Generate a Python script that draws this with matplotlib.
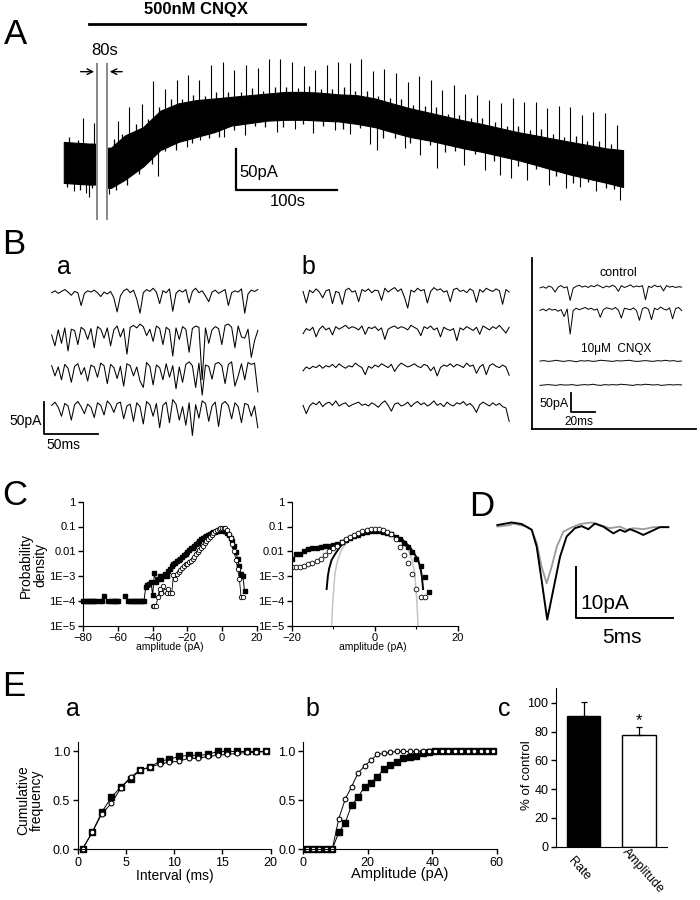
import numpy as np
import matplotlib
matplotlib.use('Agg')
import matplotlib.pyplot as plt
from matplotlib.ticker import NullLocator

plt.rcParams['font.family'] = ['Liberation Sans', 'DejaVu Sans']

# ---------------- data ----------------
# A: slow current during 500 nM CNQX (time s, current pA)
a_t   = [0, 25, 31, 44, 47, 61, 79, 96, 114, 132, 150, 167, 185, 203, 221, 239, 256, 274,
         292, 310, 327, 345, 363, 381, 399, 416, 434, 452, 470, 487, 505, 523, 541, 557]
a_top = [22, 20, 20, 15, 15, 30, 40, 60, 69, 73, 75, 77, 79, 81, 83, 83, 82, 80,
         79, 75, 69, 63, 58, 53, 48, 44, 39, 34, 30, 26, 22, 18, 14, 12]
a_bot = [-28, -30, -30, -34, -34, -24, -8, 12, 22, 28, 34, 42, 45, 48, 49, 49, 48, 47,
         44, 40, 34, 28, 24, 19, 14, 10, 5, 0, -6, -12, -18, -23, -28, -33]
spike_t = [19.5, 29.7, 54, 65, 78, 89, 101, 113, 124, 135, 147, 159, 170, 181, 193, 204,
           215, 227, 239, 250, 262, 273, 285, 296, 308, 319, 331, 343, 354, 366, 377, 389,
           400, 412, 423, 435, 447, 458, 470, 481, 493, 504, 516, 527, 539, 551]
spike_tip = [51, 45, 47, 64, 68, 96, 86, 98, 104, 98, 116, 120, 110, 116, 112, 123,
             123, 120, 114, 110, 116, 120, 118, 123, 108, 111, 106, 95, 102, 98, 85, 91,
             80, 79, 73, 69, 75, 71, 71, 63, 66, 65, 55, 59, 57, 43]
dip_t = [10, 22, 25, 45, 94, 123, 136, 160, 180, 212, 230, 248, 270, 285, 305, 312, 340,
         355, 372, 399, 420, 434, 445, 461, 483, 500, 514, 530, 554]
dip_i = [-38, -40, -45, -42, -20, 16, 24, 28, 30, 34, 38, 33, 36, 32, 20, 12, 14,
         6, -10, -6, -12, -18, -22, -24, -30, -34, -33, -38, -49]
# fine fringe of the noisy band (height above top / depth below bottom, pA)
top_hair_t = [5, 14, 50, 58, 72, 84, 95, 107, 118, 129, 141, 152, 164, 176, 187, 198, 210,
              221, 233, 244, 256, 267, 279, 290, 302, 313, 325, 336, 348, 360, 371, 383,
              394, 406, 417, 429, 441, 452, 464, 475, 487, 498, 510, 521, 533, 545]
top_hair_h = [6, 4, 7, 5, 8, 4, 6, 9, 5, 7, 4, 8, 6, 5, 9, 4, 7, 6, 5, 8, 4, 6, 9, 5, 7, 4,
              6, 8, 5, 7, 9, 4, 6, 5, 8, 6, 4, 7, 5, 9, 6, 4, 8, 5, 7, 6]
bot_hair_t = [3, 16, 28, 52, 63, 75, 88, 101, 112, 128, 145, 155, 170, 190, 200, 218, 238,
              258, 278, 295, 318, 330, 345, 365, 380, 390, 410, 428, 452, 470, 490, 507,
              522, 540, 548]
bot_hair_h = [5, 7, 4, 6, 8, 5, 7, 4, 9, 6, 5, 8, 6, 4, 7, 9, 5, 6, 8, 4, 10, 6, 7, 5, 9, 6,
              4, 8, 7, 5, 6, 9, 4, 7, 5]

# B: sEPSC sweeps (pA), a = control, b = 500 nM CNQX
ba1 = [2, 5, 1, 4, 7, 3, -2, 4, 2, -18, 1, 5, 3, 6, 2, -4, 3, 0, 4, -6, -28, -3, 5, 8, 2, 6,
       -8, -30, 2, 7, 4, 9, 3, -15, 5, 2, 8, -27, 1, 6, 3, 7, -14, 4, 9, 2, 5, -3, -12, 3, 6,
       1, 4, 7, -18, 2, 5, 3, 8, -30, 0, 6, 4, 7]
ba2 = [-5, -22, 3, -18, 6, -30, 4, 2, -20, 7, 3, -12, 5, -25, 8, 4, -10, 6, -22, 3, 9, -8,
       5, -35, 7, 10, 6, 12, 8, -6, 4, -15, 9, 5, -20, 7, 3, -38, 6, -12, 8, 4, -32, 5, 9, 7,
       -75, 6, -18, 3, 8, 5, -20, 10, 12, 7, -25, 9, -8, -10, 4, -40, -14, 2]
ba3 = [6, -10, 4, -16, 8, 2, -20, 5, 9, -8, 3, -18, 7, 4, -12, 10, 6, -22, 8, 3, -14, 5, -26,
       9, 6, -10, 4, -18, -28, 11, 5, -24, 7, 3, -16, 9, -12, 6, -30, 4, -20, 8, 12, 6, -28,
       10, -40, 7, 5, -15, 9, 11, 6, -22, 8, 12, -26, -10, 9, -16, 11, 8, 10, -35]
ba4 = [5, 10, 2, -12, 8, 4, -18, 6, 11, 3, -8, 7, 2, -14, 9, 5, -10, 12, 6, -6, 8, 10, -16,
       4, 7, -20, 9, 3, -24, 11, 6, -12, 8, -30, 5, 10, -22, 14, 7, -18, 3, -26, 9, -42, 6,
       -15, 12, 8, -20, 4, 10, -28, 7, 11, 5, -16, 9, 3, -22, 8, 6, -12, 4, -30]
bb1 = [4, -14, 6, 2, 8, 3, -6, 5, 7, -15, 4, 2, -16, 6, 9, 3, 5, -12, 7, 4, 8, 2, 6, 5, -10,
       9, 3, 7, 10, 4, 8, -5, -22, 6, 3, 9, 5, 7, -14, 4, 10, 6, 8, 3, 5, -12, 7, 9, 4, 6, 2,
       8, 5, -13, 7, 3, 9, 6, 4, 8, 5, -16, 7, 3]
bb2 = [-3, 5, 2, 7, -8, 4, 9, 3, 6, -5, 8, 4, 7, 10, 5, 8, 6, 3, 9, -4, 7, 5, 8, 2, 6, -12,
       4, 7, 9, 5, 8, 6, 3, 10, 7, 4, -6, 8, 5, 9, 3, 6, -8, 7, 4, 2, 5, -14, 6, 3, 8, 5, 2,
       7, -4, 9, 6, 3, 8, 5, 10, 4, -2, 7]
bb3 = [-2, 4, 1, 5, 3, 7, 2, 6, 4, 8, 3, 9, 5, 2, 6, 4, 10, 6, 3, -8, 5, 2, 7, 4, 9, 6, 3, 8,
       -3, 5, 10, 7, 4, 6, 9, 5, 3, 8, 6, -2, 4, -10, 3, 7, 5, 9, 4, 8, 6, 3, 10, 5, 7, -6, 4,
       8, -8, 6, 9, 5, 3, 7, 4, -9]
bb4 = [5, -8, 4, 9, 6, 11, 3, 8, 10, 5, 12, 4, 7, 9, 3, 6, 8, 10, 5, 7, 4, 9, 6, 2, 8, 12, 5,
       -4, 7, 9, 4, 6, 10, 3, 8, 11, 6, 9, 4, 7, 12, 5, 8, 3, 10, 6, 4, 9, 7, 11, 5, 8, 3, -6,
       6, 10, 7, 4, 9, 5, 8, 3, 1, -20]
# B inset: control vs 10 uM CNQX
bc1 = [3, 6, 2, 8, 4, -8, 5, 9, 3, 6, -30, 2, 7, 10, 5, 8, 4, 9, 6, 11, 7, 3, 8, 5, 10, 6,
       -6, 9, 4, 7, 11, 5, 8, 6, 9, -28, 7, 4, 10, 6, 8, -5, 9, 5, 7, 4, 6, 5]
bc2 = [4, 8, 3, 9, 5, 7, 2, 6, -12, 8, -58, 4, 10, 6, 9, 12, 7, 10, 5, 8, -14, 6, 11, 9, 7,
       12, 5, -16, 10, 8, 6, 11, 4, -22, 9, 12, 7, -20, 10, 6, 13, 8, 5, 11, -18, 9, 12, 4]
bq1 = [0, 1, -1, 0, 2, 0, -1, 1, 0, -2, 1, 0, 1, -1, 0, 2, 1, 0, -1, 1, 0, 1, 2, 0, -1, 0,
       1, 0, -1, 1, 0, 2, 0, 1, -1, 0]
bq2 = [-1, 0, 1, 0, -1, 1, 0, 0, 1, -1, 0, 1, 0, 2, 0, -1, 1, 0, 1, 0, 2, 1, 0, -1, 1, 0, 2,
       1, 0, 1, -1, 0, 1, 0, 1, 0]

# C: amplitude histograms (probability density)
cl_tail_x = [-80, -79, -78, -77, -76, -75, -74, -73, -71, -69, -68, -66, -64, -63, -62, -61,
             -60, -56, -54, -53, -52, -51, -50, -49, -48, -47, -46]
cl_tail_y = [1e-4, 1e-4, 1e-4, 1e-4, 1e-4, 1e-4, 1e-4, 1e-4, 1e-4, 1e-4, 1.6e-4, 1e-4, 1e-4,
             1e-4, 1e-4, 1e-4, 1e-4, 1.6e-4, 1e-4, 1e-4, 1e-4, 1e-4, 1e-4, 1e-4, 1e-4, 1e-4,
             1e-4]
cl_ctrl_x = list(range(-45, 14))
cl_ctrl_y = [1e-4, 3.5e-4, 4.5e-4, 5e-4, 6e-4, 1.7e-4, 1.3e-3, 6e-4, 8e-4, 1e-3, 8e-4, 1e-3,
             1.2e-3, 1e-3, 1.6e-3, 2e-3, 2.5e-3, 3e-3, 3.5e-3, 4e-3, 4.5e-3, 5e-3, 6e-3, 7e-3,
             8e-3, 9e-3, 1.1e-2, 1.3e-2, 1.4e-2, 1.7e-2, 1.9e-2, 2.2e-2, 2.6e-2, 3e-2, 3.4e-2,
             3.8e-2, 4.2e-2, 4.6e-2, 5e-2, 5.4e-2, 5.8e-2, 6.2e-2, 6.5e-2, 6.8e-2, 7e-2, 7e-2,
             6.8e-2, 6.5e-2, 5.5e-2, 4.5e-2, 3.5e-2, 2.5e-2, 1.6e-2, 9e-3, 5e-3, 2.5e-3,
             1.2e-3, 1e-3, 2.5e-4]
cl_cnqx_x = list(range(-40, 13))
cl_cnqx_y = [6e-5, 6e-5, 6e-5, 1.5e-4, 3e-4, 2e-4, 4e-4, 2.5e-4, 2e-4, 3e-4, 2e-4, 2e-4,
             1.1e-3, 8e-4, 1.2e-3, 1.5e-3, 1.8e-3, 2.2e-3, 2.6e-3, 3e-3, 3.2e-3, 3.6e-3,
             4.2e-3, 5e-3, 6e-3, 7.5e-3, 9e-3, 1.1e-2, 1.4e-2, 1.7e-2, 2.1e-2, 2.6e-2, 3.2e-2,
             3.9e-2, 4.7e-2, 5.5e-2, 6.3e-2, 7.2e-2, 8e-2, 8.6e-2, 9e-2, 9e-2, 8.5e-2, 7e-2,
             5e-2, 3.5e-2, 2e-2, 1e-2, 4.5e-3, 2e-3, 8e-4, 1.4e-4, 1.4e-4]
cr_ctrl_x = list(range(-20, 14))
cr_ctrl_y = [4.7e-3, 7.8e-3, 8e-3, 1e-2, 1.2e-2, 1.3e-2, 1.4e-2, 1.5e-2, 1.6e-2, 1.7e-2,
             1.8e-2, 2e-2, 2.4e-2, 2.9e-2, 3.5e-2, 4.1e-2, 4.7e-2, 5.3e-2, 5.9e-2, 6.3e-2,
             6.5e-2, 6.5e-2, 6.2e-2, 5.6e-2, 4.8e-2, 3.9e-2, 3e-2, 2.2e-2, 1.5e-2, 9e-3,
             5e-3, 2.5e-3, 9e-4, 2.3e-4]
cr_cnqx_x = list(range(-20, 13))
cr_cnqx_y = [2.4e-3, 2.3e-3, 2.4e-3, 2.6e-3, 3e-3, 3.5e-3, 4.2e-3, 5e-3, 7e-3, 1e-2,
             1.3e-2, 1.7e-2, 2.3e-2, 3e-2, 3.8e-2, 4.6e-2, 5.5e-2, 6.4e-2, 7.2e-2, 7.8e-2,
             8e-2, 7.8e-2, 7.2e-2, 6.2e-2, 5e-2, 3e-2, 1.5e-2, 7e-3, 3.5e-3, 1.2e-3,
             3e-4, 1.4e-4, 1.4e-4]
fit_ctrl_x = [-11.6, -11.3, -11, -10.4, -9.5, -8.4, -6.8, -5, -3, -1, 0, 1, 3, 5, 6.8, 8.4,
              9.5, 10.4, 11, 11.3, 11.6]
fit_ctrl_y = [3e-4, 1e-3, 2e-3, 4.5e-3, 8e-3, 1.5e-2, 2.8e-2, 4e-2, 5.5e-2, 6.3e-2, 6.5e-2,
              6.3e-2, 5.5e-2, 4e-2, 2.8e-2, 1.5e-2, 8e-3, 4.5e-3, 2e-3, 1e-3, 3e-4]
fit_cnqx_x = [-10.4, -10.1, -9.6, -9, -8, -6, -4, -2, 0, 2, 4, 6, 8, 9, 9.6, 10.1, 10.4]
fit_cnqx_y = [1e-5, 1e-4, 1.3e-3, 4e-3, 1.2e-2, 3.2e-2, 5.5e-2, 7.5e-2, 8e-2, 7.5e-2,
              5.5e-2, 3.2e-2, 1.2e-2, 4e-3, 1.3e-3, 1e-4, 1e-5]

# D: averaged events (ms, pA)
d_black_t = [0.02, 0.76, 1.27, 1.79, 2.05, 2.30, 2.59, 2.90, 3.25, 3.59, 4.02, 4.36, 4.71,
             5.05, 5.48, 6.0, 6.34, 6.60, 6.86, 7.2, 7.54, 7.89, 8.4, 8.83]
d_black_i = [-0.4, 0.1, -0.2, -1.3, -4.6, -11.0, -18.6, -12.9, -6.5, -2.6, -1.0, -0.6, -1.2,
             -0.1, -0.7, -2.0, -1.3, -1.7, -1.2, -1.7, -2.3, -1.7, -0.8, -0.8]
d_gray_t = [0.02, 0.67, 0.84, 1.53, 1.79, 2.05, 2.30, 2.56, 2.82, 3.08, 3.42, 3.76, 4.28,
            4.88, 5.31, 5.82, 6.34, 6.68, 7.03, 7.54, 8.06, 8.83]
d_gray_i = [-0.7, -0.4, -0.1, -0.7, -1.3, -3.9, -8.4, -11.6, -8.4, -4.6, -1.7, -1.0, -0.2,
            0.1, -0.4, -1.0, -0.7, -1.3, -1.0, -1.2, -0.8, -0.8]

# E: cumulative distributions and summary
ea_x = [0.5, 1.5, 2.5, 3.5, 4.5, 5.5, 6.5, 7.5, 8.5, 9.5, 10.5, 11.5, 12.5, 13.5, 14.5,
        15.5, 16.5, 17.5, 18.5, 19.5]
ea_ctrl = [0.0, 0.17, 0.38, 0.53, 0.64, 0.72, 0.81, 0.84, 0.90, 0.92, 0.95, 0.96, 0.96,
           0.97, 1.0, 1.0, 1.0, 1.0, 1.0, 1.0]
ea_cnqx = [0.0, 0.17, 0.36, 0.47, 0.63, 0.74, 0.81, 0.84, 0.87, 0.89, 0.90, 0.93, 0.93,
           0.95, 0.96, 0.97, 0.98, 0.99, 0.99, 1.0]
eb_x = list(range(1, 60, 2))
eb_ctrl = [0, 0, 0, 0, 0, 0.17, 0.27, 0.45, 0.53, 0.64, 0.68, 0.74, 0.82, 0.86, 0.89, 0.93,
           0.94, 0.95, 0.98, 0.99, 1, 1, 1, 1, 1, 1, 1, 1, 1, 1]
eb_cnqx = [0, 0, 0, 0, 0, 0.31, 0.51, 0.64, 0.78, 0.85, 0.91, 0.97, 0.98, 0.99, 1, 1, 1, 1,
           1, 1, 1, 1, 1, 1, 1, 1, 1, 1, 1, 1]
ec_names = ['Rate', 'Amplitude']
ec_mean = [90.5, 77.5]
ec_sem = [10.3, 5.8]

# ---------------- layout helpers (pixel boxes, y from top) ----------------
W, H = 700, 900
fig = plt.figure(figsize=(W / 100, H / 100), dpi=100, facecolor='white')


def box(x0, y0, x1, y1):
    return fig.add_axes([x0 / W, 1 - y1 / H, (x1 - x0) / W, (y1 - y0) / H])


def txt(x, y, s, size, **kw):
    kw.setdefault('ha', 'center')
    kw.setdefault('va', 'center')
    fig.text(x / W, 1 - y / H, s, fontsize=size, **kw)


def frame(ax, size=9):
    for side in ('top', 'right'):
        ax.spines[side].set_visible(False)
    ax.tick_params(direction='out', length=3.5, width=1, labelsize=size, pad=2)
    ax.tick_params(which='minor', direction='out', length=2, width=0.8)


def sweeps(ax, rows, offsets, span, lw=0.75):
    for vals, off in zip(rows, offsets):
        t = np.linspace(0, span, len(vals))
        ax.plot(t, np.asarray(vals) + off, color='k', lw=lw)


# ---------------- A ----------------
axA = box(40, 0, 660, 235)
axA.set_xlim(-23.7, 593.8)
axA.set_ylim(-91.5, 195.1)
axA.set_axis_off()
t = np.array(a_t)
for m in (t <= 31, t >= 44):
    axA.fill_between(t[m], np.array(a_bot)[m], np.array(a_top)[m], color='k', lw=0.8)
axA.vlines(spike_t, np.interp(spike_t, a_t, a_top) - 5, spike_tip, color='k', lw=0.8)
axA.vlines(dip_t, np.interp(dip_t, a_t, a_bot) + 3, dip_i, color='k', lw=0.8)
top_edge = np.interp(top_hair_t, a_t, a_top)
axA.vlines(top_hair_t, top_edge - 2, top_edge + np.array(top_hair_h), color='k', lw=0.9)
bot_edge = np.interp(bot_hair_t, a_t, a_bot)
axA.vlines(bot_hair_t, bot_edge + 2, bot_edge - np.array(bot_hair_h), color='k', lw=0.9)
axA.vlines([33.4, 42.7], -73, 118, color='#808080', lw=1.3)
axA.plot([25, 240], [166, 166], color='k', lw=2)
axA.text(131.7, 183, '500nM CNQX', fontsize=12, ha='center', va='center', fontweight='bold')
axA.text(41, 133, '80s', fontsize=12, ha='center', va='center')
axA.annotate('', xy=(33, 107.7), xytext=(14, 107.7),
             arrowprops=dict(arrowstyle='->', lw=1, color='k'))
axA.annotate('', xy=(43, 107.7), xytext=(61, 107.7),
             arrowprops=dict(arrowstyle='->', lw=1, color='k'))
axA.plot([172, 172, 272], [13.4, -36.6, -36.6], color='k', lw=1.6)
axA.text(175, -15, '50pA', fontsize=12, ha='left', va='center')
axA.text(223, -51, '100s', fontsize=12, ha='center', va='center')
txt(16, 35, 'A', 25)

# ---------------- B ----------------
offs = [0, -59, -118, -179]
axBa = box(30, 262, 270, 462)
axBa.set_xlim(-20.3, 204.4)
axBa.set_ylim(-262.5, 50)
axBa.set_axis_off()
sweeps(axBa, [ba1, ba2, ba3, ba4], offs, 193)
axBa.plot([-6.9, -6.9, 43.1], [-168, -218, -218], color='k', lw=1.3)
axBa.text(-9.5, -199, '50pA', fontsize=10, ha='right', va='center')
axBa.text(11, -236, '50ms', fontsize=10, ha='center', va='center')

axBb = box(290, 262, 530, 462)
axBb.set_xlim(-12.2, 212.5)
axBb.set_ylim(-262.5, 50)
axBb.set_axis_off()
sweeps(axBb, [bb1, bb2, bb3, bb4], offs, 193)

axBi = box(532, 258, 696, 429)
axBi.set_xlim(-6.8, 132.2)
axBi.set_ylim(-368.4, 81.6)
for side in ('top', 'right'):
    axBi.spines[side].set_visible(False)
for side in ('left', 'bottom'):
    axBi.spines[side].set_linewidth(1.3)
axBi.set_xticks([])
axBi.set_yticks([])
sweeps(axBi, [bc1, bc2, bq1, bq2], [0, -60.5, -189.5, -252.6], 120, lw=0.7)
axBi.plot([26.6, 26.6, 46.6], [-273.7, -323.7, -323.7], color='k', lw=1.3)
axBi.text(24.6, -302.6, '50pA', fontsize=9, ha='right', va='center')
axBi.text(33, -349, '20ms', fontsize=8.5, ha='center', va='center')
axBi.text(66, 43, 'control', fontsize=9, ha='center', va='center')
axBi.text(64.4, -158, '10\u03bcM  CNQX', fontsize=8.5, ha='center', va='center')

txt(14, 244, 'B', 25)
txt(64, 274, 'a', 18, va='baseline')
txt(308, 274, 'b', 18, va='baseline')

# ---------------- C ----------------
dec = [1, 0.1, 0.01, 1e-3, 1e-4, 1e-5]
dec_lbl = ['1', '0.1', '0.01', '1E\u22123', '1E\u22124', '1E\u22125']
axCL = box(83.3, 501.7, 256.7, 625.7)
axCR = box(291.7, 501.7, 458, 625.7)
for ax in (axCL, axCR):
    frame(ax, size=8)
    ax.set_yscale('log')
    ax.set_ylim(1e-5, 1)
    ax.set_yticks(dec)
    ax.set_yticklabels(dec_lbl)
    ax.yaxis.set_minor_locator(NullLocator())

axCL.set_xlim(-80, 20)
axCL.set_xticks([-80, -60, -40, -20, 0, 20])
axCL.plot(cl_tail_x, cl_tail_y, 's', color='k', ms=2.6, clip_on=False)
axCL.plot(cl_ctrl_x, cl_ctrl_y, '-s', color='k', lw=0.7, ms=2.6)
axCL.plot(cl_cnqx_x, cl_cnqx_y, '-o', color='k', lw=0.6, ms=3.2, mfc='white', mew=0.6)

axCR.set_xlim(-20, 20)
axCR.set_xticks([-20, 0, 20])
axCR.set_xticks([-10, 10], minor=True)
axCR.plot(fit_cnqx_x, fit_cnqx_y, color='#c4c4c4', lw=1.1)
axCR.plot(fit_ctrl_x, fit_ctrl_y, color='k', lw=1.4)
axCR.plot(cr_ctrl_x, cr_ctrl_y, 's', color='k', ms=3.0)
axCR.plot(cr_cnqx_x, cr_cnqx_y, 'o', color='k', ms=3.4, mfc='white', mew=0.6)

txt(15, 495, 'C', 25)
txt(33, 565, 'Probability\ndensity', 10, rotation=90, linespacing=1.0)
txt(170, 647, 'amplitude (pA)', 7.5)
txt(373, 647, 'amplitude (pA)', 7.5)

# ---------------- D ----------------
axD = box(490, 505, 690, 655)
axD.set_xlim(-0.36, 9.95)
axD.set_ylim(-25.4, 3.46)
axD.set_axis_off()
axD.plot(d_gray_t, d_gray_i, color='#9a9a9a', lw=1.3)
axD.plot(d_black_t, d_black_i, color='k', lw=1.4)
axD.plot([4.05, 4.05, 9.07], [-8.5, -18.3, -18.3], color='k', lw=1.4)
axD.text(4.28, -15.4, '10pA', fontsize=15, ha='left', va='center')
axD.text(6.44, -22.1, '5ms', fontsize=15, ha='center', va='center')
txt(482, 507, 'D', 25)

# ---------------- E ----------------
axEa = box(77.7, 741.7, 270.7, 849)
axEb = box(303.3, 741.7, 496.7, 849)
for ax in (axEa, axEb):
    frame(ax, size=9)
    ax.set_ylim(0, 1.1)
    ax.set_yticks([0, 0.5, 1.0])
    ax.set_yticklabels(['0.0', '0.5', '1.0'])

axEa.set_xlim(0, 20)
axEa.set_xticks([0, 5, 10, 15, 20])
axEa.plot(ea_x, ea_ctrl, '-s', color='k', lw=0.7, ms=3.8, clip_on=False)
axEa.plot(ea_x, ea_cnqx, '-o', color='k', lw=0.7, ms=3.5, mfc='white', mew=0.8,
          clip_on=False)

axEb.set_xlim(0, 60)
axEb.set_xticks([0, 20, 40, 60])
axEb.plot(eb_x, eb_ctrl, '-s', color='k', lw=0.7, ms=4.2, clip_on=False)
axEb.plot(eb_x, eb_cnqx, '-o', color='k', lw=0.7, ms=3.4, mfc='white', mew=0.8,
          clip_on=False)

axEc = box(556, 688.3, 666.7, 846.7)
frame(axEc, size=9)
axEc.set_xlim(-0.5, 1.5)
axEc.set_ylim(0, 110)
axEc.set_yticks([0, 20, 40, 60, 80, 100])
axEc.set_xticks([])
axEc.bar([0, 1], ec_mean, width=0.6, color=['k', 'white'], edgecolor='k', lw=1)
axEc.errorbar([0, 1], ec_mean, yerr=[[0, 0], ec_sem], fmt='none', ecolor='k',
              elinewidth=0.9, capsize=2, capthick=0.9)
axEc.text(1, ec_mean[1] + ec_sem[1] + 4, '*', fontsize=12, ha='center', va='center')

txt(14, 686, 'E', 25)
txt(73, 716, 'a', 18, va='baseline')
txt(312, 716, 'b', 18, va='baseline')
txt(504, 716, 'c', 18, va='baseline')
txt(30, 800, 'Cumulative\nfrequency', 10, rotation=90, linespacing=1.0)
txt(175, 876, 'Interval (ms)', 10)
txt(400, 874, 'Amplitude (pA)', 10.5)
txt(527, 775, '% of control', 9.5, rotation=90)
txt(579, 869, ec_names[0], 9, rotation=-48, rotation_mode='anchor')
txt(643, 871, ec_names[1], 9, rotation=-48, rotation_mode='anchor')

fig.savefig('out.png', dpi=100, facecolor='white')
